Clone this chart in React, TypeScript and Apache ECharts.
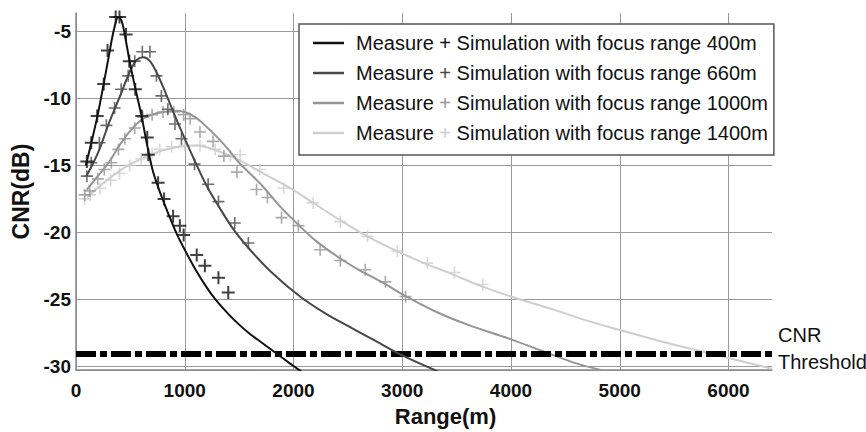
import React, { useEffect, useRef } from "react";
import * as echarts from "echarts";

const focusRanges = [400, 660, 1000, 1400];
const seriesColors = ["#111111", "#484848", "#959595", "#cecece"];

const sim400 = [[90,-15.0],[150,-13.0],[200,-11.2],[250,-9.1],[300,-6.9],[350,-4.8],[390,-3.9],[420,-4.2],[450,-5.3],[500,-7.5],[550,-9.4],[600,-11.2],[650,-13.3],[700,-15.2],[750,-16.5],[800,-17.6],[920,-20.0],[1000,-21.3],[1100,-22.8],[1200,-24.1],[1280,-25.0],[1400,-26.1],[1500,-26.9],[1600,-27.6],[1700,-28.2],[1850,-29.1],[1950,-29.7],[2070,-30.4]];
const sim660 = [[95,-15.8],[200,-14.1],[300,-11.9],[400,-9.9],[500,-7.9],[560,-7.1],[620,-6.9],[680,-7.2],[750,-8.2],[830,-9.7],[900,-11.1],[1000,-13.0],[1100,-14.8],[1200,-16.5],[1300,-17.9],[1450,-19.8],[1600,-21.3],[1800,-23.0],[2060,-24.8],[2300,-26.1],[2500,-27.0],[2750,-28.1],[3000,-29.2],[3330,-30.4]];
const sim1000 = [[100,-16.8],[200,-15.8],[300,-14.8],[400,-13.5],[500,-12.4],[600,-11.6],[700,-11.2],[800,-11.0],[900,-10.9],[1000,-11.0],[1100,-11.4],[1200,-12.1],[1300,-12.9],[1400,-13.8],[1500,-14.8],[1700,-16.4],[1880,-18.1],[2040,-19.4],[2200,-20.6],[2420,-21.9],[2600,-22.8],[2830,-23.8],[3015,-24.7],[3300,-25.9],[3600,-26.9],[4000,-28.0],[4330,-29.0],[4600,-29.8],[4880,-30.4]];
const sim1400 = [[100,-17.4],[300,-16.0],[500,-14.9],[750,-14.0],[950,-13.6],[1100,-13.5],[1300,-13.9],[1500,-14.6],[1700,-15.5],[1970,-16.7],[2200,-17.9],[2450,-19.2],[2700,-20.4],[2950,-21.4],[3200,-22.3],[3450,-23.1],[3720,-24.0],[4000,-24.8],[4400,-25.8],[4700,-26.6],[5000,-27.3],[5400,-28.2],[5700,-28.8],[6000,-29.4],[6400,-30.2]];

const meas400 = [[100,-14.7],[140,-13.3],[195,-11.3],[255,-8.9],[290,-6.4],[365,-3.9],[400,-3.9],[460,-5.2],[490,-7.2],[545,-9.3],[605,-11.3],[655,-12.9],[665,-14.2],[755,-16.3],[810,-17.5],[893,-18.8],[955,-19.5],[990,-20.2],[1110,-21.7],[1185,-22.5],[1310,-23.4],[1400,-24.5]];
const meas660 = [[100,-15.8],[140,-14.8],[215,-13.3],[280,-12.0],[355,-10.7],[415,-9.3],[480,-8.3],[540,-7.2],[610,-6.5],[680,-6.5],[740,-8.3],[785,-9.8],[845,-10.8],[910,-11.9],[970,-13.0],[1090,-14.9],[1215,-16.4],[1310,-17.7],[1460,-19.3],[1585,-20.8]];
const meas1000 = [[80,-17.2],[125,-16.9],[200,-16.0],[260,-15.3],[325,-14.8],[390,-13.8],[450,-13.0],[540,-12.2],[615,-11.4],[700,-11.2],[800,-11.0],[900,-11.0],[990,-11.2],[1050,-11.5],[1140,-12.5],[1260,-13.2],[1360,-14.3],[1480,-15.5],[1660,-16.8],[1760,-17.4],[1890,-18.9],[2045,-19.5],[2245,-21.3],[2430,-22.1],[2660,-22.8],[2845,-23.7],[3030,-24.8]];
const meas1400 = [[80,-17.5],[130,-17.2],[220,-16.7],[320,-16.1],[400,-15.6],[495,-15.0],[600,-14.5],[700,-14.1],[770,-13.8],[880,-13.6],[1000,-13.5],[1140,-13.5],[1280,-13.8],[1420,-14.3],[1510,-14.2],[1690,-15.3],[1910,-16.7],[2180,-17.8],[2430,-19.2],[2680,-20.3],[2955,-21.4],[3230,-22.3],[3480,-23.0],[3740,-23.9]];

const simData = [sim400, sim660, sim1000, sim1400];
const measData = [meas400, meas660, meas1000, meas1400];
const thresholdValue = -29.1;

const FONT = "'Liberation Sans', Arial, Helvetica, sans-serif";
const PLUS = "path://M5,0L5,10M0,5L10,5";

export default function App() {
  const ref = useRef<HTMLDivElement>(null);
  useEffect(() => {
    if (!ref.current) return;
    const chart = echarts.init(ref.current, null, { renderer: "svg" });
    const names = focusRanges.map((r) => `${r}m`);
    const rich: any = { t: { fontSize: 20, fontFamily: FONT, color: "#111", lineHeight: 20 } };
    seriesColors.forEach((c, i) => {
      rich["p" + i] = { fontSize: 20, fontFamily: FONT, color: i === 0 ? "#111" : c, lineHeight: 20 };
    });
    const series: any[] = [];
    focusRanges.forEach((r, i) => {
      series.push({
        name: names[i],
        type: "line",
        data: simData[i],
        showSymbol: false,
        smooth: 0.35,
        color: seriesColors[i],
        lineStyle: { color: seriesColors[i], width: 2 },
        z: 3 + (3 - i),
        markLine: i === 0 ? {
          silent: true,
          symbol: "none",
          lineStyle: { color: "#000", width: 6, type: [20, 4, 7, 4] },
          label: {
            show: true,
            position: "end",
            formatter: "CNR\nThreshold",
            fontFamily: FONT,
            fontSize: 20,
            lineHeight: 27,
            color: "#111",
            distance: 6,
            offset: [0, -6],
          },
          data: [{ yAxis: thresholdValue }],
        } : undefined,
      });
    });
    focusRanges.forEach((r, i) => {
      series.push({
        name: "meas" + names[i],
        type: "scatter",
        data: measData[i],
        symbol: PLUS,
        symbolSize: i === 0 ? 13 : 12,
        itemStyle: { color: "transparent", borderColor: seriesColors[i], borderWidth: i === 0 ? 2 : 1.6 },
        z: 3 + (3 - i),
      });
    });
    chart.setOption({
      animation: false,
      backgroundColor: "#fff",
      textStyle: { fontFamily: FONT },
      grid: { left: 76, right: 94, top: 13, bottom: 61, containLabel: false },
      legend: {
        data: names,
        orient: "vertical",
        left: 299,
        top: 24,
        icon: "rect",
        itemWidth: 31,
        itemHeight: 2.5,
        itemGap: 10,
        padding: [9, 6, 12, 14],
        backgroundColor: "#fff",
        borderColor: "#555",
        borderWidth: 1.5,
        borderRadius: 0,
        z: 10,
        textStyle: { rich, padding: [0, 0, 0, 7] },
        formatter: (n: string) => {
          const i = names.indexOf(n);
          return `{t|Measure }{p${i}|+}{t| Simulation with focus range ${focusRanges[i]}m}`;
        },
      },
      xAxis: {
        type: "value",
        min: 0,
        max: 6400,
        interval: 1000,
        name: "Range(m)",
        nameLocation: "middle",
        nameGap: 33,
        nameTextStyle: { fontFamily: FONT, fontSize: 22, fontWeight: "bold", color: "#111", padding: [0, 0, 0, 43] },
        axisLine: { show: true, lineStyle: { color: "#888", width: 1.5 } },
        axisTick: { show: false },
        axisLabel: { fontFamily: FONT, fontSize: 19, fontWeight: "bold", color: "#111", margin: 11, showMaxLabel: false, formatter: (v: number) => String(v) },
        splitLine: { show: true, showMaxLine: false, lineStyle: { color: "#9a9a9a", width: 1 } },
      },
      yAxis: {
        type: "value",
        min: -30.3,
        max: -3.6,
        splitNumber: 5,
        name: "CNR(dB)",
        nameLocation: "middle",
        nameRotate: 90,
        nameGap: 42,
        nameTextStyle: { fontFamily: FONT, fontSize: 23, fontWeight: "bold", color: "#111" },
        axisLine: { show: true, lineStyle: { color: "#888", width: 1.5 } },
        axisTick: { show: false },
        axisLabel: { fontFamily: FONT, fontSize: 19, fontWeight: "bold", color: "#111", margin: 5, showMinLabel: false, showMaxLabel: false },
        splitLine: { show: true, showMaxLine: false, lineStyle: { color: "#9a9a9a", width: 1 } },
      },
      series,
    });
    return () => chart.dispose();
  }, []);
  return <div ref={ref} style={{ position: "fixed", left: 0, top: 0, width: 866, height: 432 }} />;
}
